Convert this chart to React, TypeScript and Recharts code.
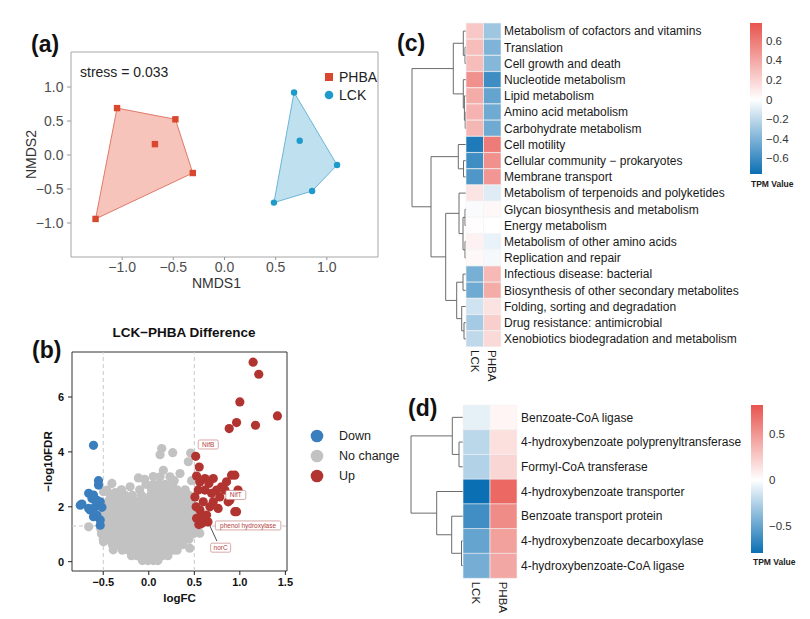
import React from 'react';
import {
  ScatterChart, Scatter, XAxis, YAxis, ReferenceArea, ReferenceLine, Legend,
  BarChart, Bar, Cell, ComposedChart,
} from 'recharts';

const FONT = '"Liberation Sans", Arial, Helvetica, sans-serif';

// ---------------- Panel (a): NMDS ----------------
const phbaPoints = [
  { x: -1.05, y: 0.69 }, { x: -0.48, y: 0.525 }, { x: -0.68, y: 0.16 },
  { x: -0.31, y: -0.265 }, { x: -1.26, y: -0.94 },
];
const lckPoints = [
  { x: 0.68, y: 0.92 }, { x: 0.735, y: 0.21 }, { x: 1.1, y: -0.147 },
  { x: 0.856, y: -0.53 }, { x: 0.483, y: -0.7 },
];
const phbaHullOrder = [0, 1, 3, 4];
const lckHullOrder = [0, 2, 3, 4];
const nmdsTicks = [-1, -0.5, 0, 0.5, 1];
const nmdsGroups = [
  { name: 'PHBA', color: '#d9472f', icon: 'square' },
  { name: 'LCK', color: '#1f9bcb', icon: 'circle' },
];

// ---------------- Panel (b): volcano ----------------
const volcanoXTicks = [-0.5, 0, 0.5, 1, 1.5];
const volcanoYTicks = [0, 2, 4, 6];
const downPoints = [
  [-0.607, 4.24], [-0.552, 2.95], [-0.552, 2.79], [-0.66, 2.49], [-0.607, 2.43], [-0.734, 2.1],
  [-0.643, 1.88], [-0.588, 2.0], [-0.515, 1.98], [-0.57, 2.24], [-0.533, 2.18], [-0.607, 1.64],
  [-0.533, 1.52], [-0.533, 1.33], [-0.57, 1.7], [-0.624, 2.3], [-0.66, 1.94], [-0.752, 2.06],
];
const upPoints = [
  [1.146, 7.27], [1.208, 6.83], [1.0, 5.82], [1.413, 5.31], [1.172, 4.97], [0.964, 5.07], [0.883, 4.85],
  [0.515, 3.84], [0.554, 3.45], [0.525, 3.12], [0.617, 3.03], [0.708, 3.03], [0.909, 3.15], [0.854, 2.91],
  [0.8, 2.73], [0.98, 2.61], [0.964, 1.82], [0.78, 2.36], [0.708, 2.18], [0.617, 2.61], [0.543, 2.61],
  [0.507, 2.36], [0.598, 2.18], [0.671, 2.0], [0.762, 1.94], [0.562, 1.88], [0.635, 1.7], [0.525, 1.58],
  [0.58, 1.39], [0.836, 2.61], [0.745, 2.61], [0.872, 2.18], [0.69, 2.49], [0.945, 3.15], [0.945, 1.82],
  [0.598, 1.52], [0.89, 2.24], [0.66, 2.85], [0.56, 2.9], [0.52, 2.0], [0.56, 1.6], [0.65, 1.45], [0.55, 1.35],
];
const grayRows: [number, number[]][] = [
  [0.04, [-0.07, -0.01, 0.05, 0.1]],
  [0.22, [-0.19, -0.13, -0.06, 0.01, 0.08, 0.15, 0.21]],
  [0.42, [-0.29, -0.22, -0.15, -0.08, -0.01, 0.06, 0.13, 0.2, 0.27, 0.31]],
  [0.62, [-0.4, -0.33, -0.26, -0.19, -0.12, -0.05, 0.02, 0.09, 0.16, 0.23, 0.3, 0.37]],
  [0.82, [-0.5, -0.44, -0.37, -0.3, -0.23, -0.16, -0.09, -0.02, 0.05, 0.12, 0.19, 0.26, 0.33, 0.4, 0.44]],
  [1.02, [-0.52, -0.47, -0.4, -0.33, -0.26, -0.19, -0.12, -0.05, 0.02, 0.09, 0.16, 0.23, 0.3, 0.37, 0.44, 0.49]],
  [1.22, [-0.53, -0.44, -0.37, -0.3, -0.23, -0.16, -0.09, -0.02, 0.05, 0.12, 0.19, 0.26, 0.33, 0.4, 0.47, 0.54]],
  [1.42, [-0.51, -0.47, -0.4, -0.33, -0.26, -0.19, -0.12, -0.05, 0.02, 0.09, 0.16, 0.23, 0.3, 0.37, 0.44, 0.51]],
  [1.62, [-0.5, -0.44, -0.37, -0.3, -0.23, -0.16, -0.09, -0.02, 0.05, 0.12, 0.19, 0.26, 0.33, 0.4, 0.47, 0.53]],
  [1.82, [-0.49, -0.41, -0.34, -0.27, -0.2, -0.13, -0.06, 0.01, 0.08, 0.15, 0.22, 0.29, 0.36, 0.43, 0.5]],
  [2.02, [-0.47, -0.4, -0.33, -0.26, -0.19, -0.12, -0.05, 0.02, 0.09, 0.16, 0.23, 0.3, 0.37, 0.44, 0.5]],
  [2.22, [-0.44, -0.37, -0.3, -0.23, -0.16, -0.09, -0.02, 0.05, 0.12, 0.19, 0.26, 0.33, 0.4, 0.47]],
  [2.42, [-0.42, -0.34, -0.26, -0.18, -0.08, 0.02, 0.08, 0.15, 0.22, 0.29, 0.36, 0.44]],
  [2.62, [-0.3, -0.1, 0.03, 0.09, 0.16, 0.23, 0.31, 0.4]],
  [2.82, [-0.03, 0.05, 0.11, 0.18, 0.26]],
];
const graySparse = [
  [0.142, 4.12], [0.124, 3.9], [0.263, 3.97], [0.46, 3.96], [0.434, 3.64], [-0.114, 3.05], [-0.045, 3.0],
  [-0.205, 2.73], [0.16, 3.33], [0.124, 3.09], [0.233, 3.09], [0.343, 3.21], [0.47, 2.95], [0.4, 2.55],
  [-0.369, 2.52], [-0.46, 2.61], [-0.405, 2.85], [-0.497, 2.55], [-0.66, 1.27], [0.56, 1.04], [0.45, 0.49],
  [-0.497, 0.73], [-0.39, 0.43], [0.28, 2.95], [-0.3, 2.6], [0.05, 3.1],
];
const volcanoLabels = [
  { x: 0.653, y: 4.27, text: 'NifB' },
  { x: 0.956, y: 2.43, text: 'NifT' },
  { x: 1.091, y: 1.32, text: 'phenol hydroxylase' },
  { x: 0.789, y: 0.51, text: 'norC' },
];
const norCLeader = [{ x: 0.617, y: 1.7 }, { x: 0.748, y: 0.75 }];
const volcanoGroups = [
  { name: 'Down', color: '#3b7ebd' },
  { name: 'No change', color: '#c2c2c2' },
  { name: 'Up', color: '#b23431' },
];

// ---------------- Panel (c): pathway heatmap ----------------
const pathways = [
  'Metabolism of cofactors and vitamins', 'Translation', 'Cell growth and death', 'Nucleotide metabolism',
  'Lipid metabolism', 'Amino acid metabolism', 'Carbohydrate metabolism', 'Cell motility',
  'Cellular community \u2212 prokaryotes', 'Membrane transport', 'Metabolism of terpenoids and polyketides',
  'Glycan biosynthesis and metabolism', 'Energy metabolism', 'Metabolism of other amino acids',
  'Replication and repair', 'Infectious disease: bacterial', 'Biosynthesis of other secondary metabolites',
  'Folding, sorting and degradation', 'Drug resistance: antimicrobial', 'Xenobiotics biodegradation and metabolism',
];
const pathwayLCK = [0.25, 0.3, 0.3, 0.5, 0.38, 0.35, 0.33, -0.7, -0.6, -0.55, 0.12, -0.02, 0.01, 0.06, 0.03, -0.42, -0.45, -0.15, -0.28, -0.2];
const pathwayPHBA = [-0.3, -0.4, -0.38, -0.6, -0.48, -0.45, -0.45, 0.6, 0.5, 0.48, -0.1, 0.03, 0.0, -0.07, -0.03, 0.32, 0.38, 0.13, 0.22, 0.17];
const pathwayTree: any = [54, [12.7, [2.7, 1, [1, 2, 3]], [2.7, 4, [1.6, 5, [0.8, 6, 7]]]],
  [35, [7.7, 8, [2.5, 9, 10]], [20.3, [7, 11, [3, [1, 12, 13], [1, 14, 15]]], [9.3, [3, 16, 17], [4.3, 18, [2, 19, 20]]]]]];
const cbarCDomain = [-0.76, 0.78];
const cbarCTicks = [-0.6, -0.4, -0.2, 0, 0.2, 0.4, 0.6];

// ---------------- Panel (d): gene heatmap ----------------
const genes = [
  'Benzoate-CoA ligase', '4-hydroxybenzoate polyprenyltransferase', 'Formyl-CoA transferase',
  '4-hydroxybenzoate transporter', 'Benzoate transport protein', '4-hydroxybenzoate decarboxylase',
  '4-hydroxybenzoate-CoA ligase',
];
const geneLCK = [-0.08, -0.22, -0.25, -0.8, -0.62, -0.5, -0.45];
const genePHBA = [0.05, 0.15, 0.2, 0.72, 0.55, 0.45, 0.42];
const geneTree: any = [52, [10.7, 1, [4, 2, 3]], [26.3, 4, [11.3, 5, [1.5, 6, 7]]]];
const cbarDDomain = [-0.793, 0.815];
const cbarDTicks = [-0.5, 0, 0.5];

const colNames = ['LCK', 'PHBA'];
const LOW = [11, 111, 179];
const HIGH = [232, 84, 78];

// ---------------- helpers ----------------
const signed = (v: number, d: number) => (v < 0 ? '\u2212' : '') + Math.abs(v).toFixed(d);
const mix = (c: number[], t: number) => {
  const k = Math.max(0, Math.min(1, t));
  const ch = c.map((x) => Math.round(255 + (x - 255) * k));
  return `rgb(${ch[0]},${ch[1]},${ch[2]})`;
};
const heat = (v: number, dom: number[]) => (v < 0 ? mix(LOW, v / dom[0]) : mix(HIGH, v / dom[1]));

function dendroSegments(tree: any) {
  const segs: { x: number; y: number }[][] = [];
  const walk = (t: any): { h: number; y: number } => {
    if (typeof t === 'number') return { h: 0, y: t };
    const [h, a, b] = t;
    const A = walk(a);
    const B = walk(b);
    segs.push([{ x: A.h, y: A.y }, { x: h, y: A.y }]);
    segs.push([{ x: B.h, y: B.y }, { x: h, y: B.y }]);
    segs.push([{ x: h, y: A.y }, { x: h, y: B.y }]);
    return { h, y: (A.y + B.y) / 2 };
  };
  walk(tree);
  return segs;
}

const hullLine = (fill: string, stroke: string) => (p: any) => (
  <polygon
    points={(p.points || []).map((q: any) => `${q.x},${q.y}`).join(' ')}
    fill={fill}
    fillOpacity={0.5}
    stroke={stroke}
    strokeWidth={1}
  />
);
const emptyShape = () => <g />;
const dot = (color: string, r: number) => (p: any) => <circle cx={p.cx} cy={p.cy} r={r} fill={color} />;

const ColTick = (props: any) => {
  const { x, y, payload } = props;
  const name = colNames[Math.round(payload.value - 0.5)];
  return (
    <text x={x} y={y} transform={`rotate(90, ${x}, ${y})`} dy="0.35em" textAnchor="start" fontSize={11.5} fill="#1a1a1a">
      {name}
    </text>
  );
};

const RowTick = (props: any) => {
  const { x, y, payload } = props;
  return (
    <text x={x} y={y} dy="0.35em" textAnchor="start" fontSize={12} fill="#1a1a1a">
      {payload.value}
    </text>
  );
};

const LabelBox = (p: any) => {
  const t = p.payload.text as string;
  const w = t.length * 3.25 + 7;
  return (
    <g>
      <rect x={p.cx - w / 2} y={p.cy - 4.5} width={w} height={9} rx={1.5} fill="#fff" stroke="#c98383" strokeWidth={0.7} />
      <text x={p.cx} y={p.cy} dy="0.35em" textAnchor="middle" fontSize={6.5} fill="#b0413e">{t}</text>
    </g>
  );
};

function Dendro({ tree, rows, hMax, width, height, margin }: any) {
  const segs = dendroSegments(tree);
  const leaves = Array.from({ length: rows }, (_, i) => ({ h: 0, r: i + 1 }));
  return (
    <ScatterChart width={width} height={height} margin={margin}>
      <XAxis type="number" dataKey="h" domain={[0, hMax]} reversed hide allowDataOverflow />
      <YAxis type="number" dataKey="r" domain={[0.5, rows + 0.5]} reversed hide allowDataOverflow />
      <Scatter data={leaves} shape={emptyShape} isAnimationActive={false} />
      {segs.map((s, i) => (
        <ReferenceLine key={i} segment={s} stroke="#6b6b6b" strokeWidth={1} ifOverflow="visible" />
      ))}
    </ScatterChart>
  );
}

function Heatmap({ names, lck, phba, dom, width, height, margin, yWidth, xHeight, labelMargin, colMargin }: any) {
  const rows = names.map((n: string, i: number) => ({ name: n, lck: lck[i], phba: phba[i], unit: 1 }));
  return (
    <BarChart width={width} height={height} data={rows} layout="vertical" margin={margin} barCategoryGap={0} barGap={0}>
      <XAxis type="number" domain={[0, 2]} ticks={[0.5, 1.5]} interval={0} height={xHeight} tickSize={0} tickMargin={colMargin}
        axisLine={false} tickLine={false} tick={(p: any) => <ColTick {...p} />} />
      <YAxis type="category" dataKey="name" orientation="right" width={yWidth} interval={0} tickSize={0}
        tickMargin={labelMargin} axisLine={false} tickLine={false} tick={(p: any) => <RowTick {...p} />} />
      <Bar dataKey="unit" stackId="h" isAnimationActive={false} stroke="#f4f4f4" strokeWidth={0.6}>
        {rows.map((r: any, i: number) => <Cell key={i} fill={heat(r.lck, dom)} />)}
      </Bar>
      <Bar dataKey="unit" stackId="h" isAnimationActive={false} stroke="#f4f4f4" strokeWidth={0.6}>
        {rows.map((r: any, i: number) => <Cell key={i} fill={heat(r.phba, dom)} />)}
      </Bar>
    </BarChart>
  );
}

function ColorBar({ id, dom, ticks, width, height, margin, yWidth, labelOffset, tickMargin }: any) {
  const z = dom[1] / (dom[1] - dom[0]);
  return (
    <ComposedChart width={width} height={height} margin={margin} data={[{ x: 0 }, { x: 1 }]}>
      <defs>
        <linearGradient id={id} x1="0" y1="0" x2="0" y2="1">
          <stop offset="0" stopColor={mix(HIGH, 1)} />
          <stop offset={z} stopColor="#ffffff" />
          <stop offset="1" stopColor={mix(LOW, 1)} />
        </linearGradient>
      </defs>
      <XAxis type="number" dataKey="x" domain={[0, 1]} height={14} tick={false} tickLine={false} axisLine={false}
        label={{ value: 'TPM Value', position: 'insideBottomLeft', offset: labelOffset, fontSize: 8.5, fontWeight: 'bold', fill: '#222' }} />
      <YAxis type="number" orientation="right" domain={dom} ticks={ticks} width={yWidth} tickSize={0} tickMargin={tickMargin}
        axisLine={false} tickLine={false} allowDataOverflow interval={0}
        tickFormatter={(v: number) => (v === 0 ? '0' : signed(v, 1))} tick={{ fill: '#333', fontSize: 11.5 }} />
      <ReferenceArea x1={0} x2={1} y1={dom[0]} y2={dom[1]} fill={`url(#${id})`} fillOpacity={1} stroke="none" />
    </ComposedChart>
  );
}

const abs = (left: number, top: number): React.CSSProperties => ({ position: 'absolute', left, top });

export default function App() {
  const phbaHull = phbaHullOrder.map((i) => phbaPoints[i]);
  const lckHull = lckHullOrder.map((i) => lckPoints[i]);
  const grayPoints = [
    ...grayRows.flatMap(([y, xs]) => xs.map((x) => ({ x, y }))),
    ...graySparse.map(([x, y]) => ({ x, y })),
  ];
  const downData = downPoints.map(([x, y]) => ({ x, y }));
  const upData = upPoints.map(([x, y]) => ({ x, y }));

  const panelLabel = (t: string, left: number, baseline: number) => (
    <div style={{ ...abs(left, baseline - 0.847 * 23), fontSize: 23, lineHeight: '23px', fontWeight: 'bold', color: '#111' }}>{t}</div>
  );

  return (
    <div style={{ position: 'absolute', left: 0, top: 0, width: 810, height: 619, background: '#fff', fontFamily: FONT, overflow: 'hidden' }}>
      {/* Panel (a) */}
      <div style={abs(0, 0)}>
        <ScatterChart width={400} height={300} margin={{ top: 52, right: 22, bottom: 10, left: 31 }}>
          <XAxis type="number" dataKey="x" domain={[-1.5, 1.5]} ticks={nmdsTicks} allowDataOverflow height={33}
            tickSize={3} tickMargin={2} axisLine={false} tickLine={{ stroke: '#999' }}
            tickFormatter={(v: number) => signed(v, 1)} tick={{ fill: '#4d4d4d', fontSize: 14 }}
            label={{ value: 'NMDS1', position: 'insideBottom', offset: 2, dx: -8, fill: '#333', fontSize: 14 }} />
          <YAxis type="number" dataKey="y" domain={[-1.5, 1.515]} ticks={nmdsTicks} allowDataOverflow width={40}
            tickSize={4} tickMargin={3.5} axisLine={false} tickLine={{ stroke: '#999' }}
            tickFormatter={(v: number) => signed(v, 1)} tick={{ fill: '#4d4d4d', fontSize: 14 }}
            label={{ value: 'NMDS2', angle: -90, position: 'insideLeft', offset: 0.5, textAnchor: 'middle', style: { textAnchor: 'middle' }, fill: '#333', fontSize: 14 }} />
          <ReferenceArea x1={-1.5} x2={1.5} y1={-1.5} y2={1.515} fill="none" stroke="#a6a6a6" strokeWidth={1} />
          <Scatter name="phbaHull" data={phbaHull} shape={emptyShape} line={hullLine('#f08a78', '#e07a6a')} legendType="none" isAnimationActive={false} />
          <Scatter name="lckHull" data={lckHull} shape={emptyShape} line={hullLine('#7fc4e0', '#6bb5d6')} legendType="none" isAnimationActive={false} />
          <Scatter name="PHBA" data={phbaPoints} legendType="square" isAnimationActive={false}
            shape={(p: any) => <rect x={p.cx - 3.2} y={p.cy - 3.2} width={6.4} height={6.4} fill={nmdsGroups[0].color} />} />
          <Scatter name="LCK" data={lckPoints} legendType="circle" isAnimationActive={false} shape={dot(nmdsGroups[1].color, 3.2)} />
          <Legend layout="vertical" align="center" verticalAlign="middle"
            wrapperStyle={{ left: 322, top: 68, width: 80, height: 36 }}
            content={() => (
              <div style={{ fontFamily: FONT }}>
                {nmdsGroups.map((g) => (
                  <div key={g.name} style={{ display: 'flex', alignItems: 'center', height: 18 }}>
                    <svg width={14} height={14}>
                      {g.icon === 'square'
                        ? <rect x={3} y={3} width={8} height={8} fill={g.color} />
                        : <circle cx={7} cy={7} r={4.3} fill={g.color} />}
                    </svg>
                    <span style={{ marginLeft: 3, fontSize: 14, color: '#222', lineHeight: '14px' }}>{g.name}</span>
                  </div>
                ))}
              </div>
            )} />
        </ScatterChart>
      </div>
      <div style={{ ...abs(80, 77 - 0.847 * 14), fontSize: 14, lineHeight: '14px', color: '#222' }}>stress = 0.033</div>
      {panelLabel('(a)', 31, 52)}

      {/* Panel (b) */}
      <div style={{ ...abs(84, 337 - 0.847 * 13.5), width: 200, textAlign: 'center', fontSize: 13.5, lineHeight: '13.5px', fontWeight: 'bold', color: '#111' }}>
        LCK{'\u2212'}PHBA Difference
      </div>
      <div style={abs(0, 300)}>
        <ScatterChart width={400} height={319} margin={{ top: 52, right: 113, bottom: 8, left: 42 }}>
          <XAxis type="number" dataKey="x" domain={[-0.843, 1.518]} ticks={volcanoXTicks} allowDataOverflow height={40}
            tickSize={4} tickMargin={3} axisLine={false} tickLine={{ stroke: '#222' }}
            tickFormatter={(v: number) => signed(v, 1)} tick={{ fill: '#111', fontSize: 11, fontWeight: 'bold' }}
            label={{ value: 'logFC', position: 'insideBottom', offset: 9, fill: '#111', fontSize: 11.5, fontWeight: 'bold' }} />
          <YAxis type="number" dataKey="y" domain={[-0.34, 7.64]} ticks={volcanoYTicks} allowDataOverflow width={30}
            tickSize={4} tickMargin={4} axisLine={false} tickLine={{ stroke: '#222' }}
            tick={{ fill: '#111', fontSize: 11, fontWeight: 'bold' }}
            label={{ value: '\u2212log10FDR', angle: -90, position: 'insideLeft', offset: 6, textAnchor: 'middle', style: { textAnchor: 'middle' }, fill: '#111', fontSize: 11.5, fontWeight: 'bold' }} />
          <ReferenceLine x={-0.5} stroke="#c8c8c8" strokeDasharray="4 3" />
          <ReferenceLine x={0.5} stroke="#c8c8c8" strokeDasharray="4 3" />
          <ReferenceLine y={1.3} stroke="#c8c8c8" strokeDasharray="4 3" />
          <Scatter name="No change" data={grayPoints} shape={dot(volcanoGroups[1].color, 4.6)} isAnimationActive={false} />
          <Scatter name="Down" data={downData} shape={dot(volcanoGroups[0].color, 4.6)} isAnimationActive={false} />
          <Scatter name="Up" data={upData} shape={dot(volcanoGroups[2].color, 4.6)} isAnimationActive={false} />
          <ReferenceLine segment={norCLeader} stroke="#222" strokeWidth={0.8} />
          <Scatter name="labels" data={volcanoLabels} shape={(p: any) => <LabelBox {...p} />} legendType="none" isAnimationActive={false} />
          <ReferenceArea x1={-0.843} x2={1.518} y1={-0.34} y2={7.64} fill="none" stroke="#333" strokeWidth={1} />
          <Legend layout="vertical" align="center" verticalAlign="middle"
            wrapperStyle={{ left: 308, top: 126, width: 95, height: 60 }}
            content={() => (
              <div style={{ fontFamily: FONT }}>
                {volcanoGroups.map((g) => (
                  <div key={g.name} style={{ display: 'flex', alignItems: 'center', height: 20 }}>
                    <svg width={18} height={18}><circle cx={9} cy={9} r={6.3} fill={g.color} /></svg>
                    <span style={{ marginLeft: 13, fontSize: 12.5, color: '#222', lineHeight: '13px' }}>{g.name}</span>
                  </div>
                ))}
              </div>
            )} />
        </ScatterChart>
      </div>
      {panelLabel('(b)', 32, 358)}

      {/* Panel (c) */}
      <div style={abs(400, 0)}>
        <Dendro tree={pathwayTree} rows={20} hMax={58} width={70} height={360} margin={{ top: 23, left: 8, right: 4, bottom: 13 }} />
      </div>
      <div style={abs(440, 0)}>
        <Heatmap names={pathways} lck={pathwayLCK} phba={pathwayPHBA} dom={cbarCDomain} width={320} height={390}
          margin={{ top: 23, left: 26, right: 9, bottom: 3 }} yWidth={250} xHeight={40} labelMargin={3} colMargin={3} />
      </div>
      <div style={abs(735, 0)}>
        <ColorBar id="gradC" dom={cbarCDomain} ticks={cbarCTicks} width={75} height={200}
          margin={{ top: 23, left: 15, right: 0, bottom: 12 }} yWidth={48} labelOffset={1} tickMargin={4} />
      </div>
      {panelLabel('(c)', 397, 51)}

      {/* Panel (d) */}
      <div style={abs(400, 395)}>
        <Dendro tree={geneTree} rows={7} hMax={56} width={70} height={200} margin={{ top: 10, left: 7, right: 7, bottom: 17 }} />
      </div>
      <div style={abs(440, 395)}>
        <Heatmap names={genes} lck={geneLCK} phba={genePHBA} dom={cbarDDomain} width={320} height={224}
          margin={{ top: 10, left: 23, right: 8, bottom: 3 }} yWidth={235} xHeight={38} labelMargin={4} colMargin={3.7} />
      </div>
      <div style={abs(735, 395)}>
        <ColorBar id="gradD" dom={cbarDDomain} ticks={cbarDTicks} width={75} height={190}
          margin={{ top: 10, left: 16, right: 0, bottom: 18 }} yWidth={47} labelOffset={2} tickMargin={6} />
      </div>
      {panelLabel('(d)', 408, 416)}
    </div>
  );
}
